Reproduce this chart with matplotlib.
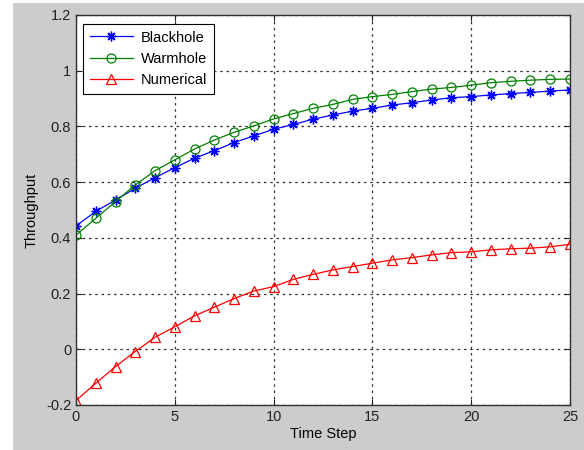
import matplotlib
matplotlib.use("Agg")
import matplotlib.pyplot as plt
from matplotlib.patches import Rectangle

# data
time_step = list(range(26))
blackhole = [0.443, 0.495, 0.536, 0.578, 0.616, 0.652, 0.686, 0.713, 0.742, 0.766,
             0.790, 0.807, 0.826, 0.841, 0.855, 0.865, 0.877, 0.885, 0.895, 0.903,
             0.907, 0.913, 0.918, 0.922, 0.927, 0.931]
warmhole = [0.410, 0.470, 0.530, 0.590, 0.641, 0.680, 0.719, 0.751, 0.779, 0.802,
            0.827, 0.846, 0.865, 0.879, 0.897, 0.907, 0.915, 0.925, 0.934, 0.940,
            0.948, 0.957, 0.962, 0.966, 0.969, 0.970]
numerical = [-0.184, -0.122, -0.062, -0.008, 0.043, 0.081, 0.120, 0.151, 0.182, 0.209,
             0.225, 0.251, 0.269, 0.285, 0.297, 0.309, 0.321, 0.329, 0.339, 0.347,
             0.350, 0.357, 0.361, 0.363, 0.368, 0.377]
yticks = [-0.2, 0, 0.2, 0.4, 0.6, 0.8, 1, 1.2]
ytick_labels = ["-0.2", "0", "0.2", "0.4", "0.6", "0.8", "1", "1.2"]
xticks = [0, 5, 10, 15, 20, 25]

plt.rcParams['font.family'] = ['Liberation Sans', 'DejaVu Sans']
plt.rcParams['font.size'] = 10.5

W, H = 584, 450
fig = plt.figure(figsize=(W/100, H/100), dpi=100, facecolor='white')
# grey matlab window area (screenshot is cropped a bit on the left/top)
fig.patches.append(Rectangle((13/W, 0), 1 - 13/W, (H-3)/H, transform=fig.transFigure,
                             facecolor='#cccccc', edgecolor='none', zorder=-10))

ax = fig.add_axes([76/W, 1 - 405/H, (570-76)/W, (405-15)/H])
ax.set_facecolor('white')

ax.plot(time_step, blackhole, color='#0000ff', marker=(8, 2, 0), markersize=7,
        markeredgewidth=1, linewidth=0.9, label='Blackhole')
ax.plot(time_step, warmhole, color='#008000', marker='o', markersize=6.5,
        markerfacecolor='none', markeredgewidth=0.9, linewidth=0.9, label='Warmhole')
ax.plot(time_step, numerical, color='#ff0000', marker='^', markersize=7.5,
        markerfacecolor='none', markeredgewidth=0.9, linewidth=0.9, label='Numerical')

ax.set_xlim(0, 25)
ax.set_ylim(-0.2, 1.2)
ax.set_xticks(xticks)
ax.set_yticks(yticks)
ax.set_yticklabels(ytick_labels)
ax.tick_params(direction='in', top=True, right=True, length=4, width=0.8,
               colors='#222222', labelcolor='#222222')
for s in ax.spines.values():
    s.set_color('#333333')
    s.set_linewidth(1)
ax.grid(True, color='#333333', linestyle=(0, (2, 3)), linewidth=0.9)

ax.set_xlabel("Time Step", labelpad=2)
ax.set_ylabel("Throughput", labelpad=5)

leg = ax.legend(loc='upper left', bbox_to_anchor=(7/494, 1 - 9/390),
                fancybox=False, framealpha=1, edgecolor='black',
                borderaxespad=0, handlelength=3.0, borderpad=0.45,
                labelspacing=0.5, handletextpad=0.5)
leg.get_frame().set_linewidth(0.8)

fig.savefig("out.png", dpi=100, facecolor=fig.get_facecolor())
